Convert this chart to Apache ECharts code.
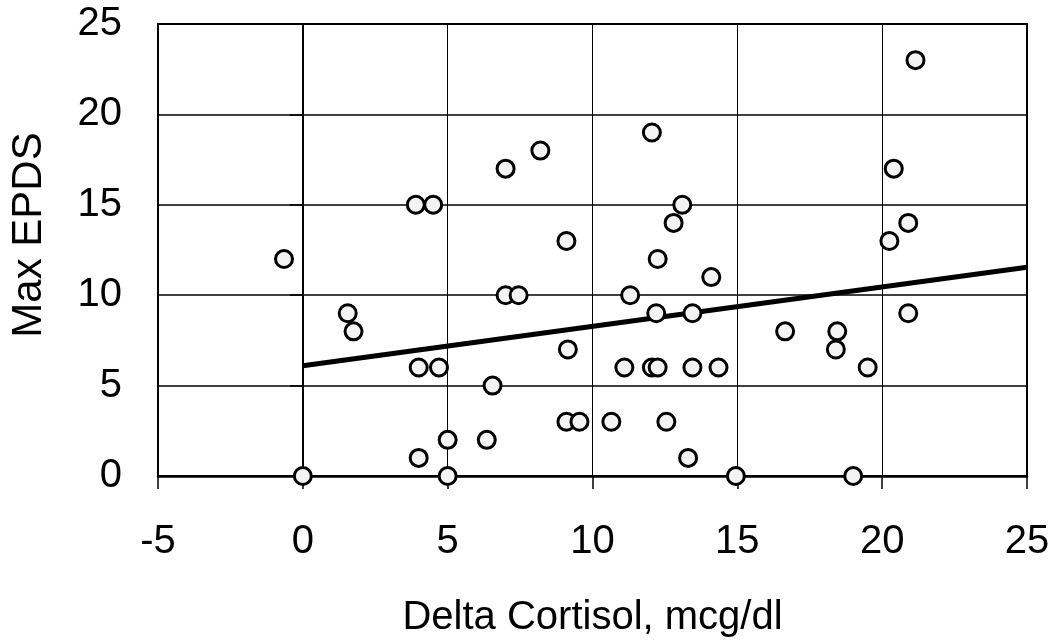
<!DOCTYPE html>
<html>
<head>
<meta charset="utf-8">
<script src="https://cdn.jsdelivr.net/npm/echarts@6/dist/echarts.min.js"></script>
<style>
  html, body { margin: 0; padding: 0; background: #fff; }
  #chart { width: 1054px; height: 642px; }
</style>
</head>
<body>
<div id="chart"></div>
<script>
// delta cortisol (x) vs max EPDS (y)
const deltaCortisol = [
  -0.65, 0, 1.55, 1.75, 3.9, 4.5, 4.0, 4.7, 4.0, 5.0, 5.0, 6.35, 6.55, 7.0, 7.45, 7.0,
  8.2, 9.1, 9.15, 9.1, 9.55, 10.65, 11.3, 11.1, 12.05, 12.25, 12.2, 12.25, 12.05, 12.55,
  12.8, 13.1, 13.3, 13.45, 13.45, 14.1, 14.35, 14.95, 16.65, 18.45, 18.4, 19.5, 19.0,
  20.9, 20.4, 20.9, 20.25, 21.15
]
const maxEpds = [
  12, 0, 9, 8, 15, 15, 6, 6, 1, 2, 0, 2, 5, 10, 10, 17,
  18, 13, 7, 3, 3, 3, 10, 6, 6, 6, 9, 12, 19, 3,
  14, 15, 1, 6, 9, 11, 6, 0, 8, 8, 7, 6, 0,
  9, 17, 14, 13, 23
]
// linear trend line end points
const trendX = [0, 25]
const trendY = [6.1, 11.55]

const xTicks = { min: -5, max: 25, interval: 5 }
const yTicks = { min: 0, max: 25, interval: 5 }

const font = 'Liberation Sans, Arial, sans-serif'

const chart = echarts.init(document.getElementById('chart'))

const option = {
  backgroundColor: '#fff',
  animation: false,
  grid: {
    left: 158,
    right: 27,
    top: 24,
    bottom: 166,
    outerBoundsMode: 'none',
    containLabel: false,
    show: true,
    borderColor: '#000',
    borderWidth: 2,
    backgroundColor: 'transparent'
  },
  xAxis: {
    type: 'value',
    min: xTicks.min,
    max: xTicks.max,
    interval: xTicks.interval,
    name: 'Delta Cortisol, mcg/dl',
    nameLocation: 'middle',
    nameGap: 122,
    nameTextStyle: { fontFamily: font, fontSize: 40, color: '#000' },
    axisLine: { show: true, onZero: false, lineStyle: { color: '#000', width: 2.5 } },
    axisTick: { show: true, inside: false, length: 13, lineStyle: { color: '#000', width: 1.5 } },
    axisLabel: { fontFamily: font, fontSize: 40, color: '#000', margin: 46 },
    splitLine: { show: true, lineStyle: { color: '#000', width: 1 } }
  },
  yAxis: {
    type: 'value',
    min: yTicks.min,
    max: yTicks.max,
    interval: yTicks.interval,
    name: 'Max EPDS',
    nameLocation: 'middle',
    nameGap: 108,
    nameTextStyle: { fontFamily: font, fontSize: 42, color: '#000', padding: [0, 0, 0, 30] },
    axisLine: { show: true, lineStyle: { color: '#000', width: 2 } },
    axisTick: { show: true, inside: false, length: 13, lineStyle: { color: '#000', width: 1.5 } },
    axisLabel: { fontFamily: font, fontSize: 40, color: '#000', margin: 36 },
    splitLine: { show: true, lineStyle: { color: '#000', width: 1.5 } }
  },
  series: [
    {
      name: 'Trend',
      type: 'line',
      data: trendX.map((x, i) => [x, trendY[i]]),
      showSymbol: false,
      lineStyle: { color: '#000', width: 5 },
      z: 2
    },
    {
      name: 'Subjects',
      type: 'scatter',
      data: deltaCortisol.map((x, i) => [x, maxEpds[i]]),
      symbol: 'circle',
      symbolSize: 17,
      itemStyle: { color: '#f3f3f3', borderColor: '#000', borderWidth: 3, opacity: 1 },
      z: 3
    }
  ]
}

chart.setOption(option)
</script>
</body>
</html>
